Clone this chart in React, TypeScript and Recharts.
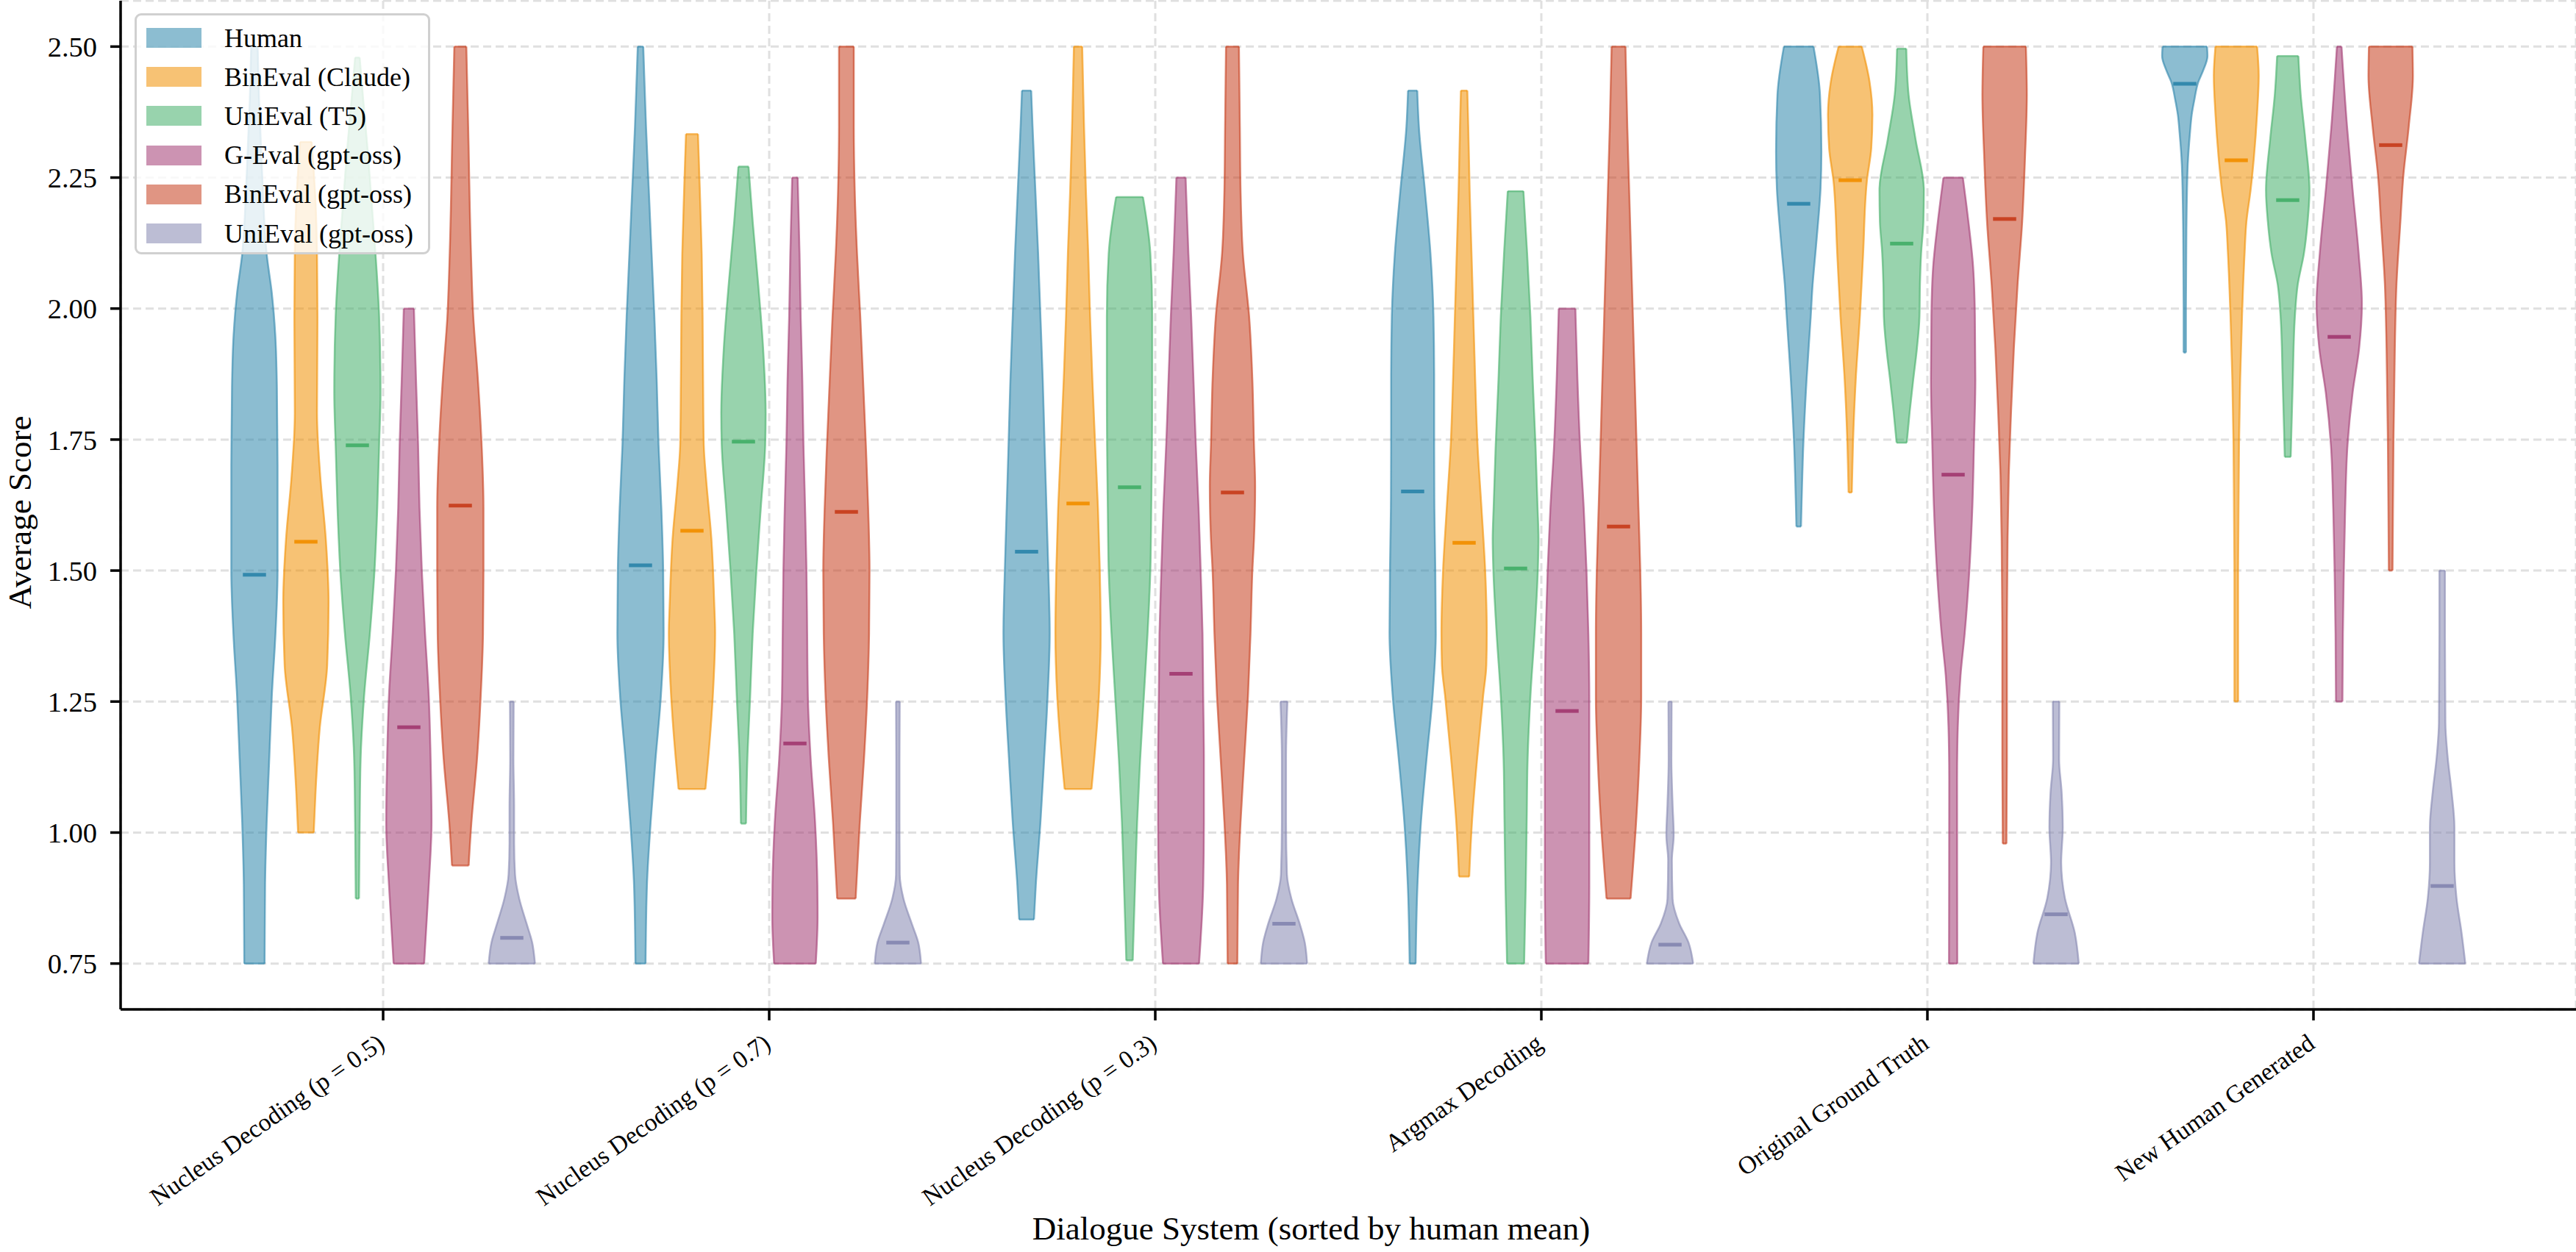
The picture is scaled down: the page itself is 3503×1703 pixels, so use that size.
import React from 'react';
import { ComposedChart, Area, Line, XAxis, YAxis, CartesianGrid, Legend } from 'recharts';

// Dialogue systems, sorted by the human mean score
const systems = [
  'Nucleus Decoding (p = 0.5)',
  'Nucleus Decoding (p = 0.7)',
  'Nucleus Decoding (p = 0.3)',
  'Argmax Decoding',
  'Original Ground Truth',
  'New Human Generated',
];

const evaluators = [
  'Human',
  'BinEval (Claude)',
  'UniEval (T5)',
  'G-Eval (gpt-oss)',
  'BinEval (gpt-oss)',
  'UniEval (gpt-oss)',
];

const yTicks = [0.75, 1.0, 1.25, 1.5, 1.75, 2.0, 2.25, 2.5];
const systemTicks = [0, 1, 2, 3, 4, 5];

// Density profiles: [score, density relative to the violin's peak], top to bottom.
type Profile = [number, number][];

const humanProfiles: Profile[] = [
  [[2.5, 0.14], [2.4, 0.2], [2.25, 0.34], [2.1, 0.54], [2.03, 0.75], [1.95, 0.9], [1.85, 0.97], [1.7, 1.0], [1.5, 1.0], [1.38, 0.91], [1.26, 0.75], [1.14, 0.64], [1.02, 0.53], [0.9, 0.46], [0.75, 0.44]],
  [[2.5, 0.12], [2.347, 0.24], [2.226, 0.36], [2.105, 0.48], [1.985, 0.6], [1.864, 0.7], [1.74, 0.78], [1.62, 0.9], [1.5, 0.98], [1.38, 1.0], [1.26, 0.88], [1.14, 0.65], [1.02, 0.44], [0.9, 0.28], [0.75, 0.22]],
  [[2.416, 0.2], [2.347, 0.26], [2.226, 0.38], [2.105, 0.5], [1.985, 0.6], [1.864, 0.7], [1.74, 0.78], [1.62, 0.86], [1.5, 0.94], [1.38, 1.0], [1.26, 0.91], [1.14, 0.76], [1.02, 0.6], [0.9, 0.4], [0.834, 0.32]],
  [[2.416, 0.2], [2.347, 0.27], [2.226, 0.53], [2.105, 0.77], [1.985, 0.9], [1.864, 0.93], [1.74, 0.93], [1.62, 0.94], [1.5, 0.98], [1.38, 1.0], [1.26, 0.86], [1.14, 0.6], [1.02, 0.36], [0.9, 0.21], [0.75, 0.13]],
  [[2.5, 0.64], [2.408, 0.92], [2.3, 0.98], [2.226, 0.94], [2.166, 0.84], [2.105, 0.72], [2.045, 0.6], [1.985, 0.52], [1.864, 0.34], [1.74, 0.2], [1.62, 0.12], [1.584, 0.1]],
  [[2.5, 0.96], [2.482, 0.98], [2.455, 0.8], [2.432, 0.58], [2.4, 0.42], [2.37, 0.3], [2.338, 0.23], [2.276, 0.13], [2.15, 0.07], [2.0, 0.05], [1.916, 0.05]],
];

const claudeProfiles: Profile[] = [
  [[2.318, 0.25], [2.2, 0.42], [2.105, 0.48], [1.985, 0.5], [1.8, 0.48], [1.68, 0.62], [1.56, 0.86], [1.44, 0.98], [1.32, 0.92], [1.2, 0.6], [1.08, 0.42], [1.0, 0.34]],
  [[2.333, 0.26], [2.226, 0.34], [2.105, 0.42], [1.985, 0.46], [1.864, 0.48], [1.74, 0.51], [1.67, 0.62], [1.56, 0.84], [1.44, 0.96], [1.38, 1.0], [1.26, 0.9], [1.14, 0.7], [1.083, 0.58]],
  [[2.5, 0.18], [2.347, 0.26], [2.226, 0.34], [2.105, 0.44], [1.985, 0.52], [1.864, 0.62], [1.74, 0.74], [1.62, 0.86], [1.5, 0.94], [1.38, 0.98], [1.26, 0.9], [1.14, 0.7], [1.083, 0.58]],
  [[2.416, 0.14], [2.347, 0.18], [2.226, 0.24], [2.105, 0.32], [1.985, 0.4], [1.864, 0.48], [1.74, 0.58], [1.62, 0.75], [1.5, 0.91], [1.38, 0.98], [1.32, 0.96], [1.26, 0.82], [1.14, 0.56], [1.02, 0.34], [0.916, 0.22]],
  [[2.5, 0.5], [2.432, 0.84], [2.37, 0.96], [2.306, 0.91], [2.243, 0.72], [2.105, 0.56], [1.985, 0.42], [1.864, 0.24], [1.74, 0.12], [1.649, 0.07]],
  [[2.5, 0.9], [2.444, 0.97], [2.372, 0.9], [2.287, 0.76], [2.226, 0.62], [2.166, 0.44], [2.105, 0.36], [1.985, 0.25], [1.864, 0.17], [1.74, 0.12], [1.5, 0.08], [1.25, 0.08]],
];

const t5Profiles: Profile[] = [
  [[2.479, 0.1], [2.4, 0.25], [2.3, 0.45], [2.2, 0.62], [2.1, 0.79], [1.985, 0.94], [1.84, 1.0], [1.74, 0.94], [1.62, 0.86], [1.5, 0.74], [1.38, 0.54], [1.26, 0.29], [1.14, 0.14], [1.02, 0.1], [0.874, 0.07]],
  [[2.271, 0.22], [2.166, 0.4], [2.045, 0.64], [1.924, 0.85], [1.8, 0.96], [1.74, 0.94], [1.62, 0.75], [1.5, 0.56], [1.38, 0.4], [1.26, 0.29], [1.14, 0.17], [1.017, 0.11]],
  [[2.213, 0.58], [2.105, 0.9], [1.985, 0.98], [1.864, 0.98], [1.74, 0.97], [1.62, 0.94], [1.5, 0.9], [1.38, 0.78], [1.26, 0.62], [1.14, 0.46], [1.02, 0.33], [0.9, 0.24], [0.756, 0.14]],
  [[2.224, 0.34], [2.105, 0.5], [1.985, 0.64], [1.864, 0.74], [1.74, 0.86], [1.62, 0.95], [1.56, 0.99], [1.5, 0.96], [1.38, 0.82], [1.26, 0.64], [1.14, 0.52], [1.02, 0.48], [0.9, 0.44], [0.75, 0.37]],
  [[2.496, 0.2], [2.408, 0.3], [2.323, 0.6], [2.226, 0.96], [2.166, 0.94], [2.105, 0.84], [2.045, 0.79], [1.985, 0.77], [1.924, 0.66], [1.864, 0.5], [1.804, 0.35], [1.744, 0.22]],
  [[2.482, 0.46], [2.408, 0.56], [2.323, 0.76], [2.226, 0.94], [2.166, 0.86], [2.105, 0.7], [2.045, 0.43], [1.985, 0.31], [1.864, 0.22], [1.717, 0.13]],
];

const gevalProfiles: Profile[] = [
  [[2.0, 0.22], [1.864, 0.31], [1.74, 0.4], [1.62, 0.46], [1.5, 0.56], [1.38, 0.7], [1.26, 0.86], [1.14, 0.94], [1.02, 0.98], [0.9, 0.86], [0.75, 0.66]],
  [[2.25, 0.12], [2.105, 0.2], [1.985, 0.25], [1.864, 0.32], [1.74, 0.37], [1.62, 0.44], [1.5, 0.5], [1.38, 0.53], [1.26, 0.56], [1.14, 0.68], [1.02, 0.87], [0.9, 0.97], [0.84, 0.98], [0.75, 0.9]],
  [[2.25, 0.2], [2.105, 0.32], [1.985, 0.44], [1.864, 0.54], [1.74, 0.64], [1.62, 0.76], [1.5, 0.85], [1.38, 0.93], [1.26, 0.96], [1.14, 0.99], [1.02, 0.99], [0.9, 0.96], [0.75, 0.78]],
  [[2.0, 0.36], [1.864, 0.45], [1.74, 0.56], [1.62, 0.72], [1.5, 0.84], [1.38, 0.92], [1.26, 0.96], [1.14, 0.96], [1.02, 0.96], [0.9, 0.96], [0.75, 0.92]],
  [[2.25, 0.42], [2.166, 0.66], [2.082, 0.86], [1.985, 0.94], [1.864, 0.96], [1.74, 0.9], [1.62, 0.83], [1.5, 0.7], [1.38, 0.5], [1.3, 0.32], [1.2, 0.2], [1.1, 0.17], [0.75, 0.18]],
  [[2.5, 0.1], [2.347, 0.34], [2.226, 0.58], [2.105, 0.84], [2.009, 0.98], [1.924, 0.86], [1.84, 0.58], [1.74, 0.36], [1.62, 0.26], [1.5, 0.2], [1.38, 0.16], [1.25, 0.14]],
];

const binGptProfiles: Profile[] = [
  [[2.5, 0.26], [2.347, 0.34], [2.105, 0.46], [1.985, 0.56], [1.864, 0.76], [1.74, 0.92], [1.62, 1.0], [1.5, 1.0], [1.38, 0.98], [1.26, 0.88], [1.14, 0.72], [1.02, 0.48], [0.937, 0.36]],
  [[2.5, 0.32], [2.347, 0.32], [2.226, 0.36], [2.105, 0.46], [1.985, 0.6], [1.864, 0.72], [1.74, 0.84], [1.62, 0.94], [1.5, 1.0], [1.38, 0.98], [1.26, 0.9], [1.14, 0.76], [1.02, 0.58], [0.874, 0.4]],
  [[2.5, 0.28], [2.347, 0.32], [2.226, 0.35], [2.105, 0.45], [1.985, 0.72], [1.864, 0.86], [1.74, 0.93], [1.66, 0.98], [1.56, 0.93], [1.5, 0.86], [1.38, 0.78], [1.26, 0.67], [1.14, 0.51], [1.02, 0.35], [0.9, 0.24], [0.75, 0.21]],
  [[2.5, 0.3], [2.347, 0.38], [2.226, 0.46], [2.105, 0.54], [1.985, 0.62], [1.864, 0.7], [1.74, 0.78], [1.62, 0.86], [1.5, 0.94], [1.38, 0.98], [1.26, 0.98], [1.14, 0.9], [1.02, 0.76], [0.874, 0.52]],
  [[2.5, 0.92], [2.408, 0.96], [2.287, 0.88], [2.166, 0.76], [2.045, 0.56], [1.924, 0.4], [1.804, 0.28], [1.683, 0.18], [1.562, 0.13], [1.38, 0.1], [1.14, 0.1], [0.979, 0.08]],
  [[2.5, 0.94], [2.444, 0.96], [2.347, 0.78], [2.25, 0.54], [2.166, 0.42], [2.045, 0.25], [1.924, 0.18], [1.74, 0.12], [1.5, 0.08]],
];

const uniGptProfiles: Profile[] = [
  [[1.25, 0.08], [1.14, 0.07], [1.05, 0.1], [0.98, 0.1], [0.92, 0.14], [0.874, 0.32], [0.826, 0.64], [0.79, 0.88], [0.75, 1.0]],
  [[1.25, 0.08], [1.14, 0.07], [1.02, 0.07], [0.92, 0.08], [0.874, 0.24], [0.826, 0.6], [0.79, 0.88], [0.75, 1.0]],
  [[1.25, 0.15], [1.14, 0.09], [1.02, 0.09], [0.92, 0.13], [0.874, 0.32], [0.826, 0.68], [0.79, 0.9], [0.75, 1.0]],
  [[1.25, 0.07], [1.14, 0.06], [1.055, 0.11], [0.995, 0.16], [0.947, 0.08], [0.874, 0.11], [0.826, 0.4], [0.79, 0.8], [0.75, 1.0]],
  [[1.25, 0.14], [1.14, 0.13], [1.077, 0.24], [1.01, 0.29], [0.943, 0.22], [0.875, 0.38], [0.808, 0.81], [0.75, 0.98]],
  [[1.5, 0.12], [1.38, 0.12], [1.21, 0.14], [1.143, 0.24], [1.077, 0.41], [1.01, 0.53], [0.943, 0.53], [0.875, 0.62], [0.808, 0.84], [0.75, 1.0]],
];

// Mean score per system
const humanMeans = [1.492, 1.51, 1.536, 1.651, 2.2, 2.429];
const claudeMeans = [1.555, 1.576, 1.628, 1.553, 2.245, 2.283];
const t5Means = [1.739, 1.746, 1.659, 1.504, 2.124, 2.207];
const gevalMeans = [1.201, 1.17, 1.303, 1.232, 1.683, 1.946];
const binGptMeans = [1.624, 1.612, 1.649, 1.584, 2.171, 2.312];
const uniGptMeans = [0.799, 0.79, 0.826, 0.786, 0.844, 0.898];

const profiles = [humanProfiles, claudeProfiles, t5Profiles, gevalProfiles, binGptProfiles, uniGptProfiles];
const means = [humanMeans, claudeMeans, t5Means, gevalMeans, binGptMeans, uniGptMeans];

const COLORS = ['#2E86AB', '#F18F01', '#44AF69', '#A23B72', '#C73E1D', '#8587B1'];
const FONT = '"Liberation Serif", "Times New Roman", serif';

const SLOT = 0.8 / 6; // distance between neighbouring violins in a group
const HALF_WIDTH = 0.06; // half width of a violin at its peak density
const MEAN_HALF = 0.03;

const violinCenter = (system: number, evaluator: number) => system + (evaluator - 2.5) * SLOT;

type Row = { y: number; v: number };
type Violin = {
  key: string;
  color: string;
  body: { y: number; span: [number, number] }[];
  topCap: Row[];
  bottomCap: Row[];
  mean: Row[];
};

const flatSegment = (y: number, c: number, half: number): Row[] => [
  { y, v: c - half },
  { y, v: c + half },
];

const violins: Violin[] = [];
profiles.forEach((perSystem, e) => {
  perSystem.forEach((profile, s) => {
    const c = violinCenter(s, e);
    const body = profile.map(([y, d]) => ({ y, span: [c - d * HALF_WIDTH, c + d * HALF_WIDTH] as [number, number] }));
    const [topY, topD] = profile[0];
    const [botY, botD] = profile[profile.length - 1];
    violins.push({
      key: `${e}-${s}`,
      color: COLORS[e],
      body,
      topCap: flatSegment(topY, c, topD * HALF_WIDTH),
      bottomCap: flatSegment(botY, c, botD * HALF_WIDTH),
      mean: flatSegment(means[e][s], c, MEAN_HALF),
    });
  });
});

const SystemTick = (props: any) => {
  const { x, y, payload } = props;
  const ax = x + 4;
  const ay = y + 34;
  return (
    <text
      x={ax}
      y={ay}
      transform={`rotate(-35 ${ax} ${ay})`}
      textAnchor="end"
      fontSize={34}
      fontFamily={FONT}
      fill="#000"
    >
      {systems[payload.value]}
    </text>
  );
};

const YTitle = () => (
  <text x={42} y={697} transform="rotate(-90 42 697)" textAnchor="middle" fontSize={45} fontFamily={FONT} fill="#000">
    Average Score
  </text>
);

const XTitle = () => (
  <text x={1783} y={1686} textAnchor="middle" fontSize={45} fontFamily={FONT} fill="#000">
    Dialogue System (sorted by human mean)
  </text>
);

const EvaluatorLegend = () => (
  <div
    style={{
      boxSizing: 'border-box',
      width: 402,
      height: 328,
      padding: '4px 0 0 13px',
      background: 'rgba(255,255,255,0.8)',
      border: '3px solid #d0d0d0',
      borderRadius: 9,
      fontFamily: FONT,
      fontSize: 36,
      color: '#000',
    }}
  >
    {evaluators.map((name, i) => (
      <div key={name} style={{ display: 'flex', alignItems: 'center', height: 53.2 }}>
        <span
          style={{
            display: 'inline-block',
            width: 75,
            height: 27,
            background: COLORS[i],
            opacity: 0.55,
            marginRight: 31,
          }}
        />
        <span style={{ lineHeight: 1 }}>{name}</span>
      </div>
    ))}
  </div>
);

const segmentProps = (color: string) => ({
  dataKey: 'v',
  type: 'linear' as const,
  stroke: color,
  dot: false,
  activeDot: false,
  legendType: 'none' as const,
  isAnimationActive: false,
});

export default function App() {
  return (
    <div style={{ position: 'absolute', left: 0, top: 0, width: 3503, height: 1703, background: '#fff' }}>
      <ComposedChart
        layout="vertical"
        width={3503}
        height={1703}
        margin={{ top: 1, right: 0, bottom: 0, left: 0 }}
      >
        <CartesianGrid stroke="#e0e0e0" strokeWidth={3} strokeDasharray="11 6" />
        <XAxis
          type="number"
          domain={[-0.68, 5.68]}
          allowDataOverflow
          ticks={systemTicks}
          interval={0}
          height={330}
          tick={<SystemTick />}
          tickSize={15}
          tickMargin={2}
          axisLine={{ stroke: '#000', strokeWidth: 3.5 }}
          tickLine={{ stroke: '#000', strokeWidth: 3.5 }}
          label={<XTitle />}
        />
        <YAxis
          type="number"
          dataKey="y"
          reversed
          domain={[0.6625, 2.5875]}
          allowDataOverflow
          ticks={yTicks}
          interval={0}
          width={164}
          tickFormatter={(v: number) => v.toFixed(2)}
          tick={{ fontSize: 38.5, fontFamily: FONT, fill: '#000' }}
          tickSize={14}
          tickMargin={18}
          axisLine={{ stroke: '#000', strokeWidth: 3.5 }}
          tickLine={{ stroke: '#000', strokeWidth: 3.5 }}
          label={<YTitle />}
        />
        <Legend
          layout="vertical"
          align="center"
          verticalAlign="middle"
          content={<EvaluatorLegend />}
          wrapperStyle={{ left: 183, top: 18, width: 402 }}
        />
        {violins.map((v) => (
          <Area
            key={`body-${v.key}`}
            data={v.body}
            dataKey="span"
            type="monotone"
            fill={v.color}
            fillOpacity={0.55}
            stroke={v.color}
            strokeOpacity={0.6}
            strokeWidth={2.5}
            dot={false}
            activeDot={false}
            legendType="none"
            isAnimationActive={false}
          />
        ))}
        {violins.map((v) => (
          <Line key={`top-${v.key}`} data={v.topCap} {...segmentProps(v.color)} strokeOpacity={0.6} strokeWidth={2.5} />
        ))}
        {violins.map((v) => (
          <Line key={`bottom-${v.key}`} data={v.bottomCap} {...segmentProps(v.color)} strokeOpacity={0.6} strokeWidth={2.5} />
        ))}
        {violins.map((v) => (
          <Line key={`mean-${v.key}`} data={v.mean} {...segmentProps(v.color)} strokeOpacity={0.95} strokeWidth={5} />
        ))}
      </ComposedChart>
    </div>
  );
}
